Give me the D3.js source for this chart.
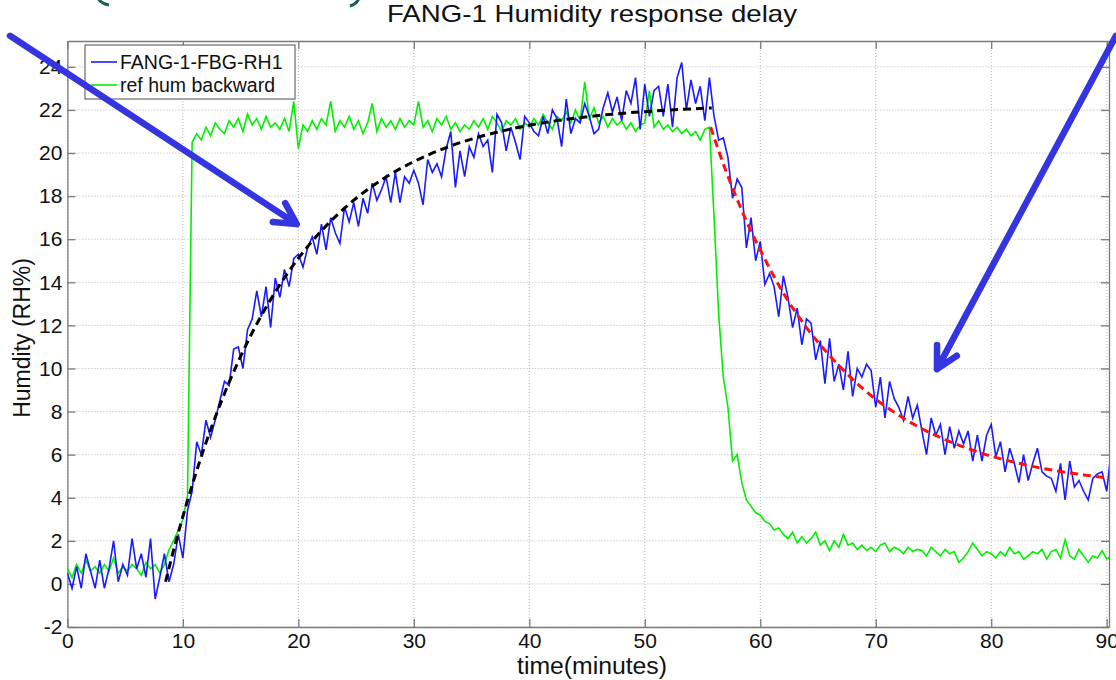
<!DOCTYPE html>
<html>
<head>
<meta charset="utf-8">
<title>FANG-1 Humidity response delay</title>
<script src="https://cdn.jsdelivr.net/npm/d3@7"></script>
<style>
  body { margin: 0; background: #fff; }
  text { font-family: 'Liberation Sans', Arial, sans-serif; fill: #111; }
</style>
</head>
<body>
<svg id="chart" width="1116" height="680"></svg>
<script>

// minutes between two samples of the measured series
const sampleStep = 0.4;

// FBG sensor reading (RH%), one row = 10 minutes
const fbgHum = [
  0.5, -0.2, 0.8, -0.2, 1.4, 0.6, -0.2, 1.1, -0.2, 0.7, 2.0, 0.1, 0.9, 0.4, 2.1, 0.7, 1.4, 0.3, 2.1, -0.7, 0.3, 1.4, 0.1, 0.9, 2.3,
  1.2, 3.4, 4.3, 6.6, 6.0, 7.6, 6.8, 7.6, 8.5, 9.4, 9.2, 10.9, 11.0, 10.0, 11.8, 12.3, 13.6, 12.4, 13.8, 11.9, 14.2, 13.3, 14.6, 13.8, 15.1,
  15.3, 14.7, 15.6, 16.1, 15.3, 16.7, 15.5, 17.0, 16.3, 15.8, 17.5, 16.8, 17.7, 16.6, 17.9, 17.2, 18.6, 17.8, 18.3, 18.9, 17.7, 19.1, 17.7, 18.9, 18.6,
  19.2, 18.6, 17.6, 19.7, 19.1, 19.5, 18.9, 20.2, 21.0, 18.4, 20.1, 18.9, 20.3, 19.8, 20.9, 20.3, 20.6, 19.1, 21.8, 21.4, 20.1, 21.2, 20.5, 19.7, 21.7,
  21.4, 21.0, 20.8, 21.7, 20.9, 22.0, 21.6, 20.3, 22.5, 20.9, 21.6, 21.4, 22.3, 21.7, 20.9, 21.1, 22.1, 22.8, 21.9, 22.6, 21.5, 22.9, 22.3, 23.5, 21.1,
  23.2, 21.7, 22.9, 23.1, 21.7, 23.2, 21.2, 23.5, 24.2, 22.0, 23.4, 22.3, 23.1, 21.5, 23.5, 21.7, 20.6, 20.7, 19.8, 17.9, 18.8, 18.4, 15.6, 17.0, 15.0,
  15.9, 13.9, 14.4, 13.8, 12.4, 14.3, 13.3, 11.9, 12.8, 11.1, 12.3, 12.1, 10.4, 11.3, 9.3, 11.4, 9.4, 10.2, 9.0, 10.8, 8.7, 10.0, 9.6, 10.2, 9.9,
  8.2, 9.6, 7.7, 9.4, 8.6, 8.2, 7.6, 8.7, 7.7, 8.3, 7.1, 6.0, 7.7, 6.9, 7.4, 6.0, 7.3, 6.3, 7.1, 6.5, 7.1, 5.7, 6.9, 5.7, 6.9,
  7.4, 5.9, 6.6, 5.2, 6.3, 5.6, 4.7, 6.0, 4.8, 5.6, 6.3, 5.2, 5.0, 4.9, 4.3, 5.6, 3.9, 5.7, 4.5, 4.8, 4.3, 3.9, 4.9, 5.1, 5.2,
  4.3, 6.2
];

// reference hygrometer, backward (RH%)
const refHum = [
  0.7, 0.3, 0.9, 0.5, 1.1, 0.6, 0.8, 0.5, 0.9, 0.6, 1.2, 0.5, 0.8, 0.6, 0.9, 0.7, 0.4, 1.0, 0.7, 0.9, 0.5, 0.9, 1.6, 2.0, 2.5,
  3.0, 4.1, 20.5, 20.9, 20.6, 21.2, 20.8, 21.4, 21.1, 20.9, 21.5, 21.2, 21.6, 21.0, 21.8, 21.3, 21.6, 21.1, 21.7, 21.2, 21.4, 21.1, 21.6, 21.0, 22.4,
  20.2, 21.3, 21.0, 21.5, 21.1, 21.6, 21.3, 22.4, 21.0, 21.5, 21.2, 21.7, 21.1, 21.5, 20.9, 21.4, 22.3, 21.0, 21.6, 21.2, 21.5, 21.1, 21.6, 21.2, 21.5,
  21.3, 22.4, 21.2, 21.5, 21.0, 21.6, 21.3, 21.7, 21.1, 21.4, 21.0, 21.3, 21.1, 21.5, 21.2, 21.6, 21.1, 21.7, 21.4, 21.0, 21.5, 21.3, 21.6, 21.1, 21.4,
  21.2, 21.6, 21.3, 21.8, 21.4, 21.1, 21.7, 21.5, 21.9, 21.4, 22.0, 21.5, 23.3, 21.6, 22.1, 21.4, 21.7, 21.2, 21.6, 21.3, 21.5, 21.1, 21.4, 21.0, 21.3,
  21.4, 22.9, 21.2, 21.5, 21.1, 21.3, 21.0, 21.2, 20.9, 21.1, 20.8, 21.0, 20.6, 21.1, 21.2, 17.0, 12.5, 9.6, 8.2, 5.7, 6.0, 4.7, 3.9, 3.6, 3.3,
  3.2, 2.9, 2.8, 2.5, 2.6, 2.3, 2.1, 2.4, 1.9, 2.2, 1.9, 2.1, 2.4, 1.8, 2.0, 1.55, 2.0, 1.7, 2.3, 1.8, 1.9, 1.6, 1.8, 1.55, 1.7,
  1.5, 1.8, 1.9, 1.5, 1.7, 1.6, 1.4, 1.7, 1.5, 1.6, 1.55, 1.3, 1.7, 1.5, 1.3, 1.6, 1.4, 1.5, 1.0, 1.2, 1.5, 1.9, 1.6, 1.3, 1.5,
  1.4, 1.2, 1.5, 1.3, 1.7, 1.4, 1.5, 1.15, 1.3, 1.5, 1.4, 1.6, 1.15, 1.5, 1.6, 1.2, 2.05, 1.3, 1.15, 1.6, 1.3, 1.0, 1.3, 1.2, 1.55,
  1.15, 1.3
];

// fitted rise (black dashed)
const riseFitTime = [8.5, 9, 10, 11, 12, 13, 14, 15, 16, 18, 20, 22, 24, 26, 28, 30, 33, 36, 40, 44, 48, 52, 55.8];
const riseFitHum  = [0.1, 1.16, 3.13, 4.92, 6.55, 8.02, 9.35, 10.56, 11.66, 13.55, 15.11, 16.39, 17.44, 18.31, 19.02, 19.6, 20.29, 20.8, 21.29, 21.62, 21.84, 21.99, 22.09];

// fitted fall (red dashed)
const fallFitTime = [55.7, 57, 58, 59, 60, 62, 64, 66, 68, 70, 72, 74, 76, 78, 80, 82, 84, 86, 88, 90.3];
const fallFitHum  = [21.2, 19.2, 17.85, 16.6, 15.5, 13.5, 11.9, 10.6, 9.5, 8.57, 7.83, 7.2, 6.7, 6.28, 5.93, 5.65, 5.41, 5.22, 5.06, 4.91];

const xTicks = [0, 10, 20, 30, 40, 50, 60, 70, 80, 90];
const yTicks = [-2, 0, 2, 4, 6, 8, 10, 12, 14, 16, 18, 20, 22, 24];
const legendNames = ['FANG-1-FBG-RH1', 'ref hum backward'];
const legendColors = ['#1a1aff', '#00f000'];

// hand drawn arrows on the slide, [start, tip] in data units
const arrowsData = [
  [[-4.97, 25.44], [19.86, 16.7]],
  [[90.8, 25.44], [75.3, 9.97]]
];

const svg = d3.select('#chart');
const plotLeft = 67.4, plotRight = 1109, plotTop = 41, plotBottom = 627;

const x = d3.scaleLinear().domain([0, 90.2]).range([plotLeft, plotRight]);
const y = d3.scaleLinear().domain([-2, 25.2]).range([plotBottom, plotTop]);

svg.append('defs').append('clipPath').attr('id', 'plotClip')
  .append('rect')
  .attr('x', plotLeft).attr('y', plotTop)
  .attr('width', plotRight - plotLeft).attr('height', plotBottom - plotTop);

// grid
const grid = svg.append('g')
  .attr('stroke', '#b4b4b4')
  .attr('stroke-width', 1)
  .attr('stroke-dasharray', '1,2');
grid.selectAll('.vg').data(xTicks).enter().append('line')
  .attr('x1', d => x(d)).attr('x2', d => x(d))
  .attr('y1', plotTop).attr('y2', plotBottom);
grid.selectAll('.hg').data(yTicks).enter().append('line')
  .attr('x1', plotLeft).attr('x2', plotRight)
  .attr('y1', d => y(d)).attr('y2', d => y(d));

// axes, ticks inside like matlab (plain hyphen for negatives)
const plainFormat = d => String(d);

function styleAxis(g) {
  g.selectAll('.domain').attr('stroke', '#7a7a7a').attr('stroke-width', 1.3);
  g.selectAll('.tick line').attr('stroke', '#7a7a7a').attr('stroke-width', 1.3);
  g.selectAll('.tick text').attr('font-size', '21px').attr('fill', '#111')
    .attr('font-family', "'Liberation Sans', Arial, sans-serif");
}

svg.append('g')
  .attr('transform', `translate(0,${plotBottom})`)
  .call(d3.axisBottom(x).tickValues(xTicks).tickFormat(plainFormat).tickSize(-8).tickPadding(6).tickSizeOuter(0))
  .call(styleAxis);
svg.append('g')
  .attr('transform', `translate(0,${plotTop})`)
  .call(d3.axisTop(x).tickValues(xTicks).tickSize(-8).tickFormat('').tickSizeOuter(0))
  .call(styleAxis);
svg.append('g')
  .attr('transform', `translate(${plotLeft},0)`)
  .call(d3.axisLeft(y).tickValues(yTicks).tickFormat(plainFormat).tickSize(-8).tickPadding(5).tickSizeOuter(0))
  .call(styleAxis);
svg.append('g')
  .attr('transform', `translate(${plotRight},0)`)
  .call(d3.axisRight(y).tickValues(yTicks).tickSize(-8).tickFormat('').tickSizeOuter(0))
  .call(styleAxis);

// series
const sampleTime = d3.range(fbgHum.length).map(i => i * sampleStep);
const series = svg.append('g').attr('clip-path', 'url(#plotClip)');

const line = d3.line()
  .x(d => x(d[0]))
  .y(d => y(d[1]));

series.append('path')
  .datum(d3.zip(sampleTime, refHum))
  .attr('fill', 'none')
  .attr('stroke', legendColors[1])
  .attr('stroke-width', 1.6)
  .attr('d', line);

series.append('path')
  .datum(d3.zip(sampleTime, fbgHum))
  .attr('fill', 'none')
  .attr('stroke', legendColors[0])
  .attr('stroke-width', 1.6)
  .attr('d', line);

const fitLine = d3.line()
  .x(d => x(d[0]))
  .y(d => y(d[1]))
  .curve(d3.curveMonotoneX);

series.append('path')
  .datum(d3.zip(riseFitTime, riseFitHum))
  .attr('fill', 'none')
  .attr('stroke', '#000')
  .attr('stroke-width', 3)
  .attr('stroke-dasharray', '8,5')
  .attr('d', fitLine);

series.append('path')
  .datum(d3.zip(fallFitTime, fallFitHum))
  .attr('fill', 'none')
  .attr('stroke', '#ff1010')
  .attr('stroke-width', 3)
  .attr('stroke-dasharray', '8,5')
  .attr('d', fitLine);

// legend
const legend = svg.append('g');
legend.append('rect')
  .attr('x', 85).attr('y', 45)
  .attr('width', 210).attr('height', 54)
  .attr('fill', '#fff')
  .attr('stroke', '#6a6a6a')
  .attr('stroke-width', 1.2);
legendNames.forEach((name, i) => {
  let ly = 62 + i * 23;
  legend.append('line')
    .attr('x1', 91).attr('x2', 117)
    .attr('y1', ly).attr('y2', ly)
    .attr('stroke', legendColors[i])
    .attr('stroke-width', 1.6);
  legend.append('text')
    .attr('x', 120).attr('y', ly + 7)
    .attr('font-size', '19.5px')
    .text(name);
});

// titles
svg.append('text')
  .attr('x', 592).attr('y', 22)
  .attr('text-anchor', 'middle')
  .attr('font-size', '24px')
  .attr('textLength', 410)
  .attr('lengthAdjust', 'spacingAndGlyphs')
  .text('FANG-1 Humidity response delay');

svg.append('text')
  .attr('x', 592).attr('y', 674)
  .attr('text-anchor', 'middle')
  .attr('font-size', '23px')
  .attr('textLength', 150)
  .attr('lengthAdjust', 'spacingAndGlyphs')
  .text('time(minutes)');

svg.append('text')
  .attr('transform', 'translate(30,338) rotate(-90)')
  .attr('text-anchor', 'middle')
  .attr('font-size', '23px')
  .text('Humdity (RH%)');

// slide decorations: bits of teal brackets at the top edge
svg.append('path')
  .attr('d', 'M98,-2 Q101,4 109,5')
  .attr('fill', 'none').attr('stroke', '#1d5f5c').attr('stroke-width', 3);
svg.append('path')
  .attr('d', 'M359,-2 Q357,4 350,6')
  .attr('fill', 'none').attr('stroke', '#1d5f5c').attr('stroke-width', 3);

// arrows
const arrowColor = '#3434e0';
arrowsData.forEach(a => {
  let x0 = x(a[0][0]), y0 = y(a[0][1]);
  let x1 = x(a[1][0]), y1 = y(a[1][1]);
  let back = Math.atan2(y0 - y1, x0 - x1);
  let headLen = 24, spread = 28 * Math.PI / 180;
  let p = d3.path();
  p.moveTo(x0, y0);
  p.lineTo(x1, y1);
  p.moveTo(x1 + headLen * Math.cos(back + spread), y1 + headLen * Math.sin(back + spread));
  p.lineTo(x1, y1);
  p.lineTo(x1 + headLen * Math.cos(back - spread), y1 + headLen * Math.sin(back - spread));
  svg.append('path')
    .attr('d', p.toString())
    .attr('fill', 'none')
    .attr('stroke', arrowColor)
    .attr('stroke-width', 6.5)
    .attr('stroke-linejoin', 'round')
    .attr('stroke-linecap', 'round');
});

</script>
</body>
</html>
